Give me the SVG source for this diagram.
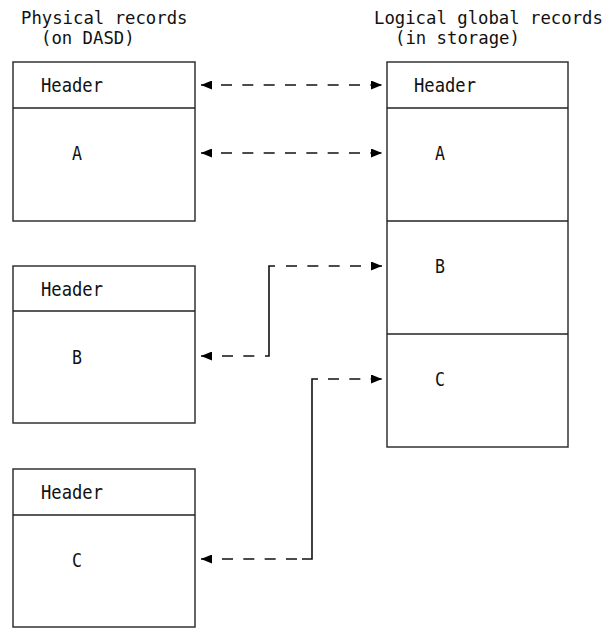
<svg xmlns="http://www.w3.org/2000/svg" width="607" height="628" viewBox="0 0 607 628">
<style>
.box{fill:#fff;stroke:#333;stroke-width:1.5}
.div{stroke:#222;stroke-width:1.5}
.t{font-family:"DejaVu Sans Mono","Liberation Mono",monospace;font-size:19px;fill:#111}
.tt{font-family:"DejaVu Sans Mono","Liberation Mono",monospace;font-size:17.3px;fill:#111}
.dash{fill:none;stroke:#111;stroke-width:1.6;stroke-dasharray:11 10.33}
.solid{fill:none;stroke:#111;stroke-width:1.6}
</style>
<defs>
<marker id="ah" viewBox="0 0 11 9" refX="11" refY="4.5" markerWidth="11" markerHeight="9" markerUnits="userSpaceOnUse" orient="auto-start-reverse">
<path d="M0,0 L11,4.5 L0,9 z" fill="#000"/>
</marker>
</defs>
<rect width="607" height="628" fill="#fff"/>
<g id="titles">
<text class="tt" x="21" y="24">Physical records</text>
<text class="tt" x="41" y="44">(on DASD)</text>
<text class="tt" x="374" y="24">Logical global records</text>
<text class="tt" x="395" y="44">(in storage)</text>
</g>
<g id="phys-a">
<rect class="box" x="13" y="62" width="182" height="159"/>
<line class="div" x1="13" y1="108" x2="195" y2="108"/>
<text class="t" x="41" y="92" textLength="62" lengthAdjust="spacingAndGlyphs">Header</text>
<text class="t" x="72" y="160" textLength="10" lengthAdjust="spacingAndGlyphs">A</text>
</g>
<g id="phys-b">
<rect class="box" x="13" y="266" width="182" height="157"/>
<line class="div" x1="13" y1="311" x2="195" y2="311"/>
<text class="t" x="41" y="296" textLength="62" lengthAdjust="spacingAndGlyphs">Header</text>
<text class="t" x="72" y="364" textLength="10" lengthAdjust="spacingAndGlyphs">B</text>
</g>
<g id="phys-c">
<rect class="box" x="13" y="469" width="182" height="158"/>
<line class="div" x1="13" y1="515" x2="195" y2="515"/>
<text class="t" x="41" y="499" textLength="62" lengthAdjust="spacingAndGlyphs">Header</text>
<text class="t" x="72" y="567" textLength="10" lengthAdjust="spacingAndGlyphs">C</text>
</g>
<g id="logical">
<rect class="box" x="387" y="62" width="181" height="385"/>
<line class="div" x1="387" y1="108" x2="568" y2="108"/>
<line class="div" x1="387" y1="221" x2="568" y2="221"/>
<line class="div" x1="387" y1="334" x2="568" y2="334"/>
<text class="t" x="414" y="92" textLength="62" lengthAdjust="spacingAndGlyphs">Header</text>
<text class="t" x="435" y="160" textLength="10" lengthAdjust="spacingAndGlyphs">A</text>
<text class="t" x="435" y="273" textLength="10" lengthAdjust="spacingAndGlyphs">B</text>
<text class="t" x="435" y="386" textLength="10" lengthAdjust="spacingAndGlyphs">C</text>
</g>
<g id="connectors">
<path class="dash" d="M201,85 H382" stroke-dashoffset="1.33" marker-start="url(#ah)" marker-end="url(#ah)"/>
<path class="dash" d="M201,153 H382" stroke-dashoffset="1.33" marker-start="url(#ah)" marker-end="url(#ah)"/>
<path class="dash" d="M286,266 H382" marker-end="url(#ah)"/>
<path class="solid" d="M265,356 H269 V266 H275"/>
<path class="dash" d="M201,356 H255" stroke-dashoffset="0.33" marker-start="url(#ah)"/>
<path class="dash" d="M328,379 H382" marker-end="url(#ah)"/>
<path class="solid" d="M302,559 H312 V379 H318"/>
<path class="dash" d="M201,559 H298" stroke-dashoffset="0.33" marker-start="url(#ah)"/>
</g>
</svg>
